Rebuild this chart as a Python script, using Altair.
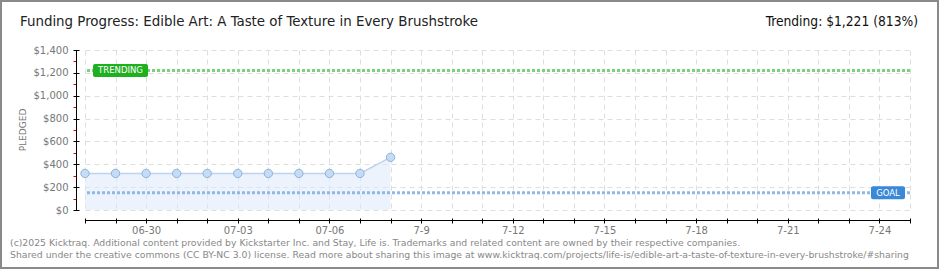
import altair as alt
import pandas as pd

# ---- data ----
dates = ["2025-06-28", "2025-06-29", "2025-06-30", "2025-07-01", "2025-07-02",
         "2025-07-03", "2025-07-04", "2025-07-05", "2025-07-06", "2025-07-07",
         "2025-07-08"]
pledged = [320, 320, 320, 320, 320, 320, 320, 320, 320, 320, 461]
goal = 150
trending = 1221
axis_start = "2025-06-28"
axis_end = "2025-07-25"
tick_labels = ["06-30", "07-03", "07-06", "7-9", "7-12", "7-15", "7-18", "7-21", "7-24"]
y_major = [0, 200, 400, 600, 800, 1000, 1200, 1400]
y_minor = [100, 300, 500, 700, 900, 1100, 1300]

title_text = "Funding Progress: Edible Art: A Taste of Texture in Every Brushstroke"
trend_text = "Trending:  $1,221 (813%)"
footer_lines = [
    "(c)2025 Kicktraq. Additional content provided by Kickstarter Inc. and Stay, Life is. Trademarks and related content are owned by their respective companies.",
    "Shared under the creative commons (CC BY-NC 3.0) license. Read more about sharing this image at www.kicktraq.com/projects/life-is/edible-art-a-taste-of-texture-in-every-brushstroke/#sharing",
]

# ---- derived tables ----
start = pd.Timestamp(axis_start)
df = pd.DataFrame({"date": pd.to_datetime(dates), "pledged": pledged})
df["day"] = (df["date"] - start).dt.days
n_days = (pd.Timestamp(axis_end) - start).days
day_values = list(range(n_days + 1))

label_arr = [""] * (n_days + 1)
for lab in tick_labels:
    m, d = lab.split("-")
    idx = (pd.Timestamp(year=2025, month=int(m), day=int(d)) - start).days
    label_arr[idx] = lab
label_expr = "[" + ",".join("'" + s + "'" for s in label_arr) + "][datum.value]"

W, H = 825, 160
TFONT = "DejaVu Sans Condensed, DejaVu Sans"
FONT = "DejaVu Sans"

xs = alt.Scale(domain=[0, n_days], nice=False, zero=False)
ys = alt.Scale(domain=[0, 1400], nice=False)

base = alt.Chart(df)

# grid layer (area)
area = base.mark_area(color="#dceafa", opacity=0.55).encode(
    x=alt.X("day:Q", scale=xs, axis=alt.Axis(
        orient="bottom", values=day_values, grid=True, gridColor="#dedede",
        gridDash=[5, 4], labels=False, ticks=False, domain=False, title=None)),
    y=alt.Y("pledged:Q", scale=ys, axis=alt.Axis(
        orient="left", values=y_major, grid=True, gridColor="#dedede",
        gridDash=[5, 4], labels=False, ticks=False, domain=False, title=None)),
)

# ticks + labels layer (line)
line = base.mark_line(color="#bcd4ee", strokeWidth=1.5).encode(
    x=alt.X("day:Q", scale=xs, axis=alt.Axis(
        orient="bottom", values=day_values, grid=False, domain=False,
        ticks=True, tickSize=5, tickColor="#000", offset=8,
        labelExpr=label_expr, labelFont=FONT, labelFontSize=10,
        labelColor="#777", labelPadding=2, labelFlush=False,
        labelOverlap=False, title=None)),
    y=alt.Y("pledged:Q", scale=ys, axis=alt.Axis(
        orient="left", values=y_major, grid=False, domain=False,
        ticks=True, tickSize=6, tickColor="#000", offset=6,
        format="$,d", labelFont=FONT, labelFontSize=10, labelColor="#777",
        labelPadding=5, title=None)),
)

# domain lines + minor red ticks (points)
points = base.mark_point(filled=True, fill="#c4dcf5", stroke="#8fb2d8",
                         strokeWidth=1, size=70, opacity=1).encode(
    x=alt.X("day:Q", scale=xs, axis=alt.Axis(
        orient="bottom", values=day_values, grid=False, domain=True,
        domainColor="#000", ticks=False, labels=False, offset=10, title=None)),
    y=alt.Y("pledged:Q", scale=ys, axis=alt.Axis(
        orient="left", values=y_minor, grid=False, domain=True,
        domainColor="#000", ticks=True, tickColor="#e00000", tickSize=3,
        labels=False, offset=9, title=None)),
)

goal_df = pd.DataFrame({"v": [goal], "t": ["GOAL"]})
trend_df = pd.DataFrame({"v": [trending], "t": ["TRENDING"]})

goal_rule = alt.Chart(goal_df).mark_rule(color="#8fb8e6", strokeWidth=3,
                                         strokeDash=[3, 2]).encode(
    y=alt.Y("v:Q", scale=ys, axis=None))
trend_rule = alt.Chart(trend_df).mark_rule(color="#7fcf7f", strokeWidth=3,
                                           strokeDash=[3, 2]).encode(
    y=alt.Y("v:Q", scale=ys, axis=None))

trend_box = alt.Chart(trend_df).mark_tick(color="#1fb01f", thickness=13, size=55,
                                          cornerRadius=2, opacity=1).encode(
    y=alt.Y("v:Q", scale=ys, axis=None), x=alt.value(35.5))
trend_lab = alt.Chart(trend_df).mark_text(color="white", font=FONT, fontSize=8.5,
                                          align="center", baseline="middle").encode(
    y=alt.Y("v:Q", scale=ys, axis=None), x=alt.value(35.5), text="t:N")

goal_box = alt.Chart(goal_df).mark_tick(color="#3a88d8", thickness=13, size=34,
                                        cornerRadius=2, opacity=1).encode(
    y=alt.Y("v:Q", scale=ys, axis=None), x=alt.value(803))
goal_lab = alt.Chart(goal_df).mark_text(color="white", font=FONT, fontSize=8.5,
                                        align="center", baseline="middle").encode(
    y=alt.Y("v:Q", scale=ys, axis=None), x=alt.value(803), text="t:N")

txt_df = pd.DataFrame({"title": [title_text], "trend": [trend_text],
                       "f1": [footer_lines[0]], "f2": [footer_lines[1]],
                       "ylab": ["PLEDGED"]})
tchart = alt.Chart(txt_df)
title = tchart.mark_text(font=TFONT, fontSize=14.9, color="#222", align="left",
                         baseline="middle").encode(
    x=alt.value(-65), y=alt.value(-28), text="title:N")
trend_t = tchart.mark_text(font=TFONT, fontSize=13.7, color="#111", align="right",
                           baseline="middle").encode(
    x=alt.value(833), y=alt.value(-28), text="trend:N")
foot1 = tchart.mark_text(font=FONT, fontSize=9.3, color="#888", align="left",
                         baseline="middle").encode(
    x=alt.value(-75), y=alt.value(193), text="f1:N")
foot2 = tchart.mark_text(font=FONT, fontSize=9.3, color="#888", align="left",
                         baseline="middle").encode(
    x=alt.value(-75), y=alt.value(205), text="f2:N")
ylab = tchart.mark_text(font=FONT, fontSize=9, color="#777", angle=270,
                        align="center", baseline="middle").encode(
    x=alt.value(-62), y=alt.value(80), text="ylab:N")

frame = alt.Chart(pd.DataFrame({"a": [0]})).mark_rect(
    fillOpacity=0, stroke="#8a8a8a", strokeWidth=2).encode(
    x=alt.value(-84), x2=alt.value(853), y=alt.value(-49), y2=alt.value(218))

chart = alt.layer(
    area, line, points, goal_rule, trend_rule, trend_box, trend_lab,
    goal_box, goal_lab, title, trend_t, foot1, foot2, ylab, frame
).resolve_axis(x="independent", y="independent").properties(
    width=W, height=H,
    padding={"left": 85, "top": 50, "right": 30, "bottom": 60},
    autosize=alt.AutoSizeParams(type="none"),
    background="white",
).configure_view(strokeWidth=0)

chart.save("out.html", embed_options={"renderer": "svg", "actions": False})
